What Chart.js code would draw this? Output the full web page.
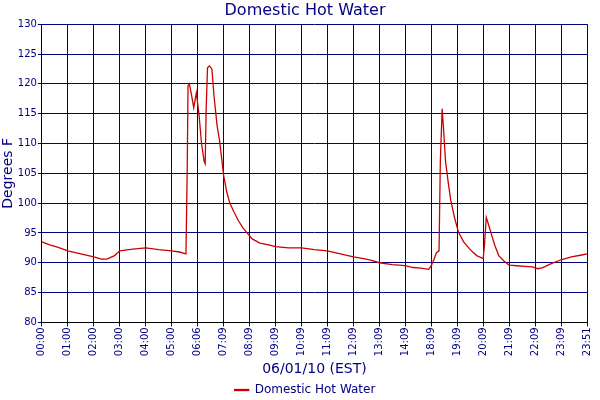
<!DOCTYPE html>
<html><head><meta charset="utf-8">
<script src="https://cdn.jsdelivr.net/npm/chart.js@4/dist/chart.umd.min.js"></script>
<style>html,body{margin:0;background:#fff}#wrap{width:600px;height:400px}</style>
</head><body><div id="wrap"><canvas id="c"></canvas></div>
<script>
const tickLabels = ['00:00','01:00','02:00','03:00','04:00','05:00','06:06','07:09','08:09','09:09','10:09','11:09','12:09','13:09','14:09','18:09','19:09','20:09','21:09','22:09','23:09','23:51'];
// position along the tick-label axis (label index units)
const xPos = [0,0.3,0.6,1,1.5,2,2.3,2.5,2.8,3,3.5,4,4.5,5,5.3,5.55,5.6,5.63,5.68,5.75,5.85,5.95,6.05,6.15,6.25,6.29,6.33,6.38,6.45,6.55,6.63,6.75,6.85,7,7.12,7.24,7.4,7.58,7.75,7.89,8.1,8.4,8.73,9,9.5,10,10.5,11,11.5,12,12.4,12.7,13,13.5,14,14.3,14.6,14.9,15,15.1,15.2,15.3,15.35,15.42,15.48,15.55,15.65,15.75,15.9,16.05,16.25,16.5,16.75,17,17.05,17.12,17.2,17.3,17.45,17.6,17.8,18,18.3,18.6,18.9,19.1,19.3,19.6,20,20.4,20.8,21];
const temps = [93.5,93,92.6,92,91.5,91,90.6,90.6,91.2,92,92.3,92.5,92.2,92,91.8,91.5,106,119.7,120,118.5,116,118.5,115,110,107,106.6,116,122.7,123,122.5,118,113,110.3,104.7,101.9,100,98.5,97,95.8,95.1,94,93.3,93,92.7,92.5,92.5,92.2,92,91.5,91,90.7,90.4,90,89.7,89.5,89.2,89.1,88.9,89.5,90.5,91.7,92,107,115.8,112,107,103.6,100.5,97.5,95.1,93.5,92.2,91.2,90.7,93,97.6,96.5,95,92.9,91.2,90.3,89.6,89.5,89.4,89.3,89,89.2,89.8,90.5,91,91.3,91.5];

const navy = '#000080';
const font = 'Verdana, "DejaVu Sans", sans-serif';

new Chart(document.getElementById('c'), {
  type: 'line',
  data: {
    datasets: [{
      label: 'Domestic Hot Water',
      data: xPos.map((x, i) => ({ x, y: temps[i] })),
      borderColor: '#cc0000', backgroundColor: '#cc0000',
      borderWidth: 1.3, pointRadius: 0, tension: 0,
    }],
  },
  options: {
    responsive: true, maintainAspectRatio: false, animation: false,
    layout: { padding: { left: 0, right: -10, top: 0, bottom: -6 } },
    plugins: {
      title: { display: true, text: 'Domestic Hot Water', color: navy, font: { family: font, size: 16, weight: 'normal' }, padding: { top: 1, bottom: 4 } },
      legend: {
        position: 'bottom', labels: {
          color: navy, font: { family: font, size: 12 }, boxWidth: 14, boxHeight: 1, padding: 6,
        },
      },
    },
    scales: {
      x: {
        type: 'linear', min: 0, max: tickLabels.length - 1,
        ticks: {
          stepSize: 1, autoSkip: false, maxRotation: 90, minRotation: 90, padding: 1,
          color: navy, font: { family: font, size: 10 },
          callback: (v) => tickLabels[v],
        },
        grid: { color: navy, lineWidth: 1, tickLength: 4 },
        border: { color: '#000' },
        title: { display: true, text: '06/01/10 (EST)', color: navy, font: { family: font, size: 14 }, padding: { top: 4, bottom: 0 } },
      },
      y: {
        min: 80, max: 130,
        ticks: { stepSize: 5, color: navy, font: { family: font, size: 10 }, padding: 1 },
        grid: { color: navy, lineWidth: 1, tickLength: 4 },
        border: { color: '#000' },
        title: { display: true, text: 'Degrees F', color: navy, font: { family: font, size: 14 }, padding: 0 },
      },
    },
  },
});
</script></body></html>
